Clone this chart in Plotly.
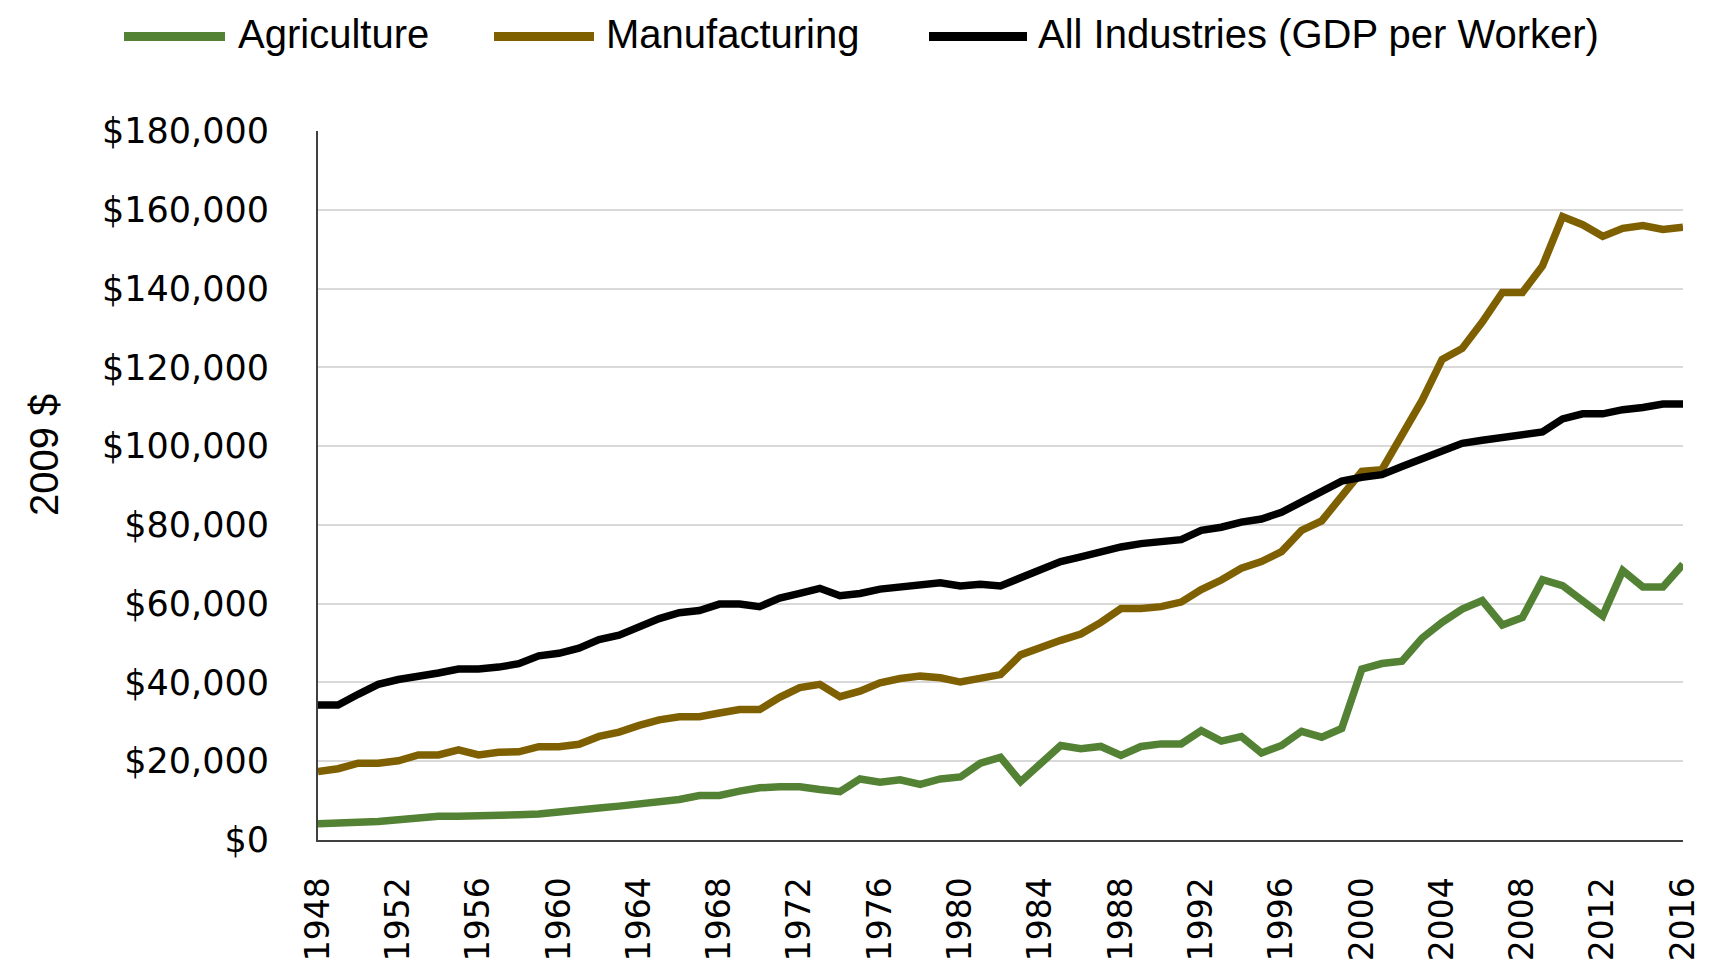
import plotly.graph_objects as go

years = list(range(1948, 2017))

agriculture = [4.1, 4.1, 4.5, 4.7, 5.2, 5.6, 6.0, 6.0, 6.0, 6.0,
               6.4, 6.6, 7.25, 7.8, 8.1, 8.6, 9.1, 9.7, 10.3, 11.3,
               11.3, 12.4, 13.25, 13.5, 13.5, 12.8, 12.25, 15.5, 14.7, 15.3,
               14.1, 15.5, 16.0, 19.5, 21.0, 14.8, 19.5, 24.0, 23.2, 23.75,
               21.5, 23.75, 24.4, 24.4, 27.75, 25.1, 26.25, 22.1, 24.0, 27.6,
               26.1, 28.3, 43.4, 44.8, 45.4, 51.25, 55.25, 58.6, 60.8, 54.6,
               56.5, 66.1, 64.6, 60.7, 56.9, 68.4, 64.25, 64.25, 70.0]

manufacturing = [17.4, 18.1, 19.5, 19.5, 20.1, 21.6, 21.6, 22.9, 21.6, 22.25,
                 22.4, 23.7, 23.7, 24.3, 26.3, 27.4, 29.1, 30.5, 31.3, 31.3,
                 32.25, 33.1, 33.1, 36.2, 38.7, 39.5, 36.4, 37.8, 39.9, 41.0,
                 41.6, 41.2, 40.1, 41.2, 42.0, 47.0, 49.0, 50.7, 52.3, 55.25,
                 58.75, 58.75, 59.25, 60.4, 63.6, 66.0, 69.0, 70.7, 73.2, 78.6,
                 81.0, 87.0, 93.6, 94.0, 102.75, 111.6, 122.0, 124.8, 131.5, 139.0,
                 139.0, 145.75, 158.25, 156.2, 153.25, 155.3, 156.0, 155.0, 155.6]

all_industries = [34.25, 34.25, 37.0, 39.5, 40.75, 41.8, 42.4, 43.4, 43.4, 43.9,
                  44.75, 46.75, 47.4, 48.7, 50.9, 52.0, 54.1, 56.2, 57.7, 58.25,
                  59.9, 59.9, 59.25, 61.4, 62.6, 63.9, 62.0, 62.6, 63.7, 64.3,
                  64.9, 65.3, 64.5, 64.9, 64.5, 66.5, 68.6, 70.7, 71.9, 73.2,
                  74.4, 75.25, 75.9, 76.25, 78.6, 79.4, 80.7, 81.5, 83.2, 85.7,
                  88.2, 91.1, 92.1, 92.75, 94.8, 96.9, 99.0, 100.7, 101.5, 102.3,
                  103.0, 103.6, 106.9, 108.2, 108.2, 109.25, 109.8, 110.7, 110.7]

series_names = ["Agriculture", "Manufacturing", "All Industries (GDP per Worker)"]
series_values = [agriculture, manufacturing, all_industries]
series_colors = ["#548235", "#7F6000", "#000000"]

y_ticks = list(range(0, 180001, 20000))
y_tick_labels = ["$" + f"{v:,}" for v in y_ticks]
x_ticks = list(range(1948, 2017, 4))

fig = go.Figure()
for name, vals, col in zip(series_names, series_values, series_colors):
    fig.add_trace(go.Scatter(
        x=years, y=[v * 1000 for v in vals], mode="lines", name=name,
        line=dict(color=col, width=7.5), showlegend=False))

# custom legend (decoration)
L, R, T, B = 310, 1675, 123, 843
W, H = R - L, B - T
def px_x(x):
    return (x - L) / W
def px_y(y):
    return (B - y) / H

legend_items = [(116, 217, 228), (486, 586, 596), (921, 1019, 1028)]
for (x0, x1, tx), name, col in zip(legend_items, series_names, series_colors):
    fig.add_shape(type="line", xref="paper", yref="paper",
                  x0=px_x(x0), x1=px_x(x1), y0=px_y(27), y1=px_y(27),
                  line=dict(color=col, width=9))
    fig.add_annotation(xref="paper", yref="paper", x=px_x(tx), y=px_y(25),
                       text=name, showarrow=False, xanchor="left", yanchor="middle",
                       font=dict(family="Liberation Sans Narrow, Liberation Sans, Arial", size=40, color="#000"))

fig.add_annotation(xref="paper", yref="paper", x=px_x(36), y=px_y(452),
                   text="2009 $", textangle=-90, showarrow=False,
                   xanchor="center", yanchor="middle",
                   font=dict(family="Liberation Sans Narrow, Liberation Sans, Arial", size=40, color="#000"))

fig.update_layout(
    width=1710, height=965,
    margin=dict(l=L, r=1710 - R, t=T, b=965 - B),
    paper_bgcolor="white", plot_bgcolor="white",
    font=dict(family="DejaVu Sans", size=34, color="#000"),
)
fig.update_xaxes(
    range=[1948, 2016], tickvals=x_ticks, ticktext=[str(t) for t in x_ticks],
    tickangle=-90, showgrid=False, zeroline=False,
    showline=True, linecolor="#404040", linewidth=2,
    ticks="", ticklabelstandoff=22,
    tickfont=dict(family="DejaVu Sans", size=33, color="#000"),
)
fig.update_yaxes(
    range=[0, 180000], tickvals=y_ticks, ticktext=y_tick_labels,
    showgrid=True, gridcolor="#d9d9d9", gridwidth=2, zeroline=False,
    showline=True, linecolor="#404040", linewidth=2,
    ticks="", ticklabelstandoff=40,
    tickfont=dict(family="DejaVu Sans", size=35, color="#000"),
)

fig.write_html("out.html")
